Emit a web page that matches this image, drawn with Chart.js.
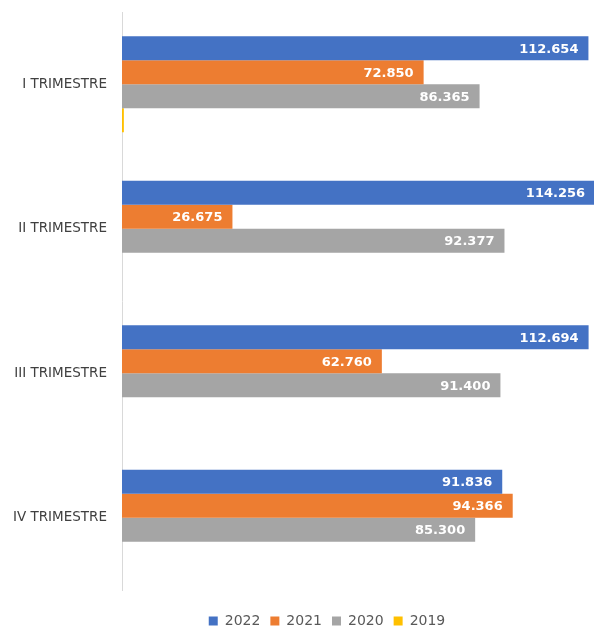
<!DOCTYPE html>
<html>
<head>
<meta charset="utf-8">
<script src="https://cdn.jsdelivr.net/npm/chart.js@4/dist/chart.umd.min.js"></script>
<style>
  html, body { margin: 0; padding: 0; background: #fff; overflow: hidden; }
  #wrap { width: 594px; height: 627px; }
</style>
</head>
<body>
<div id="wrap"><canvas id="chart" width="594" height="627"></canvas></div>
<script>
// Chart values
const categories = ['I TRIMESTRE', 'II TRIMESTRE', 'III TRIMESTRE', 'IV TRIMESTRE'];
const years = ['2022', '2021', '2020', '2019'];
const values2022 = [112654, 114256, 112694, 91836];
const values2021 = [72850, 26675, 62760, 94366];
const values2020 = [86365, 92377, 91400, 85300];
const values2019 = [450, null, null, null];
const colors = ['#4472C4', '#ED7D31', '#A5A5A5', '#FFC000'];

// thousands separator as a dot, like the source
function fmt(v) {
    return String(v).replace(/\B(?=(\d{3})+(?!\d))/g, '.');
}

// draws the white value labels inside the bar ends
const barLabels = {
    id: 'barLabels',
    afterDatasetsDraw(chart) {
        const ctx = chart.ctx;
        ctx.save();
        ctx.font = 'bold 13px "DejaVu Sans"';
        ctx.fillStyle = '#FFFFFF';
        ctx.textAlign = 'right';
        ctx.textBaseline = 'middle';
        chart.data.datasets.forEach((ds, i) => {
            const meta = chart.getDatasetMeta(i);
            meta.data.forEach((bar, j) => {
                const v = ds.data[j];
                if (v == null || v < 5000) return;
                const right = Math.min(bar.x, chart.chartArea.right + 2);
                ctx.fillText(fmt(v), right - 10, bar.y + 1);
            });
        });
        ctx.restore();
    }
};

// the legend sits a bit right of the canvas centre in the source
const legendShift = {
    id: 'legendShift',
    afterLayout(chart) {
        chart.legend.left += 30;
        chart.legend.right += 30;
    }
};

const seriesValues = [values2022, values2021, values2020, values2019];

new Chart(document.getElementById('chart'), {
    type: 'bar',
    data: {
        labels: categories,
        datasets: years.map((y, i) => ({
            label: y,
            data: seriesValues[i],
            backgroundColor: colors[i],
            borderWidth: 0,
            barPercentage: 1,
            categoryPercentage: 0.665
        }))
    },
    options: {
        indexAxis: 'y',
        responsive: false,
        animation: false,
        layout: { padding: { top: 12, right: 0, bottom: -11, left: 0 } },
        scales: {
            x: {
                min: 0,
                max: 114000,
                display: false
            },
            y: {
                grid: { display: false, drawTicks: false },
                border: { display: true, color: '#D9D9D9', width: 1 },
                ticks: {
                    color: '#404040',
                    font: { family: '"DejaVu Sans"', size: 13.5 },
                    padding: 15
                },
                afterFit(scale) {
                    scale.width = 122;
                    scale.paddingTop = 0;
                    scale.paddingBottom = 0;
                }
            }
        },
        plugins: {
            legend: {
                position: 'bottom',
                title: {
                    display: true,
                    text: '',
                    font: { size: 10, lineHeight: 1 },
                    padding: { top: 2, bottom: 2 }
                },
                labels: {
                    boxWidth: 9,
                    boxHeight: 9,
                    padding: 10,
                    color: '#595959',
                    font: { family: '"DejaVu Sans"', size: 14 }
                }
            },
            tooltip: { enabled: false }
        }
    },
    plugins: [barLabels, legendShift]
});
</script>
</body>
</html>
